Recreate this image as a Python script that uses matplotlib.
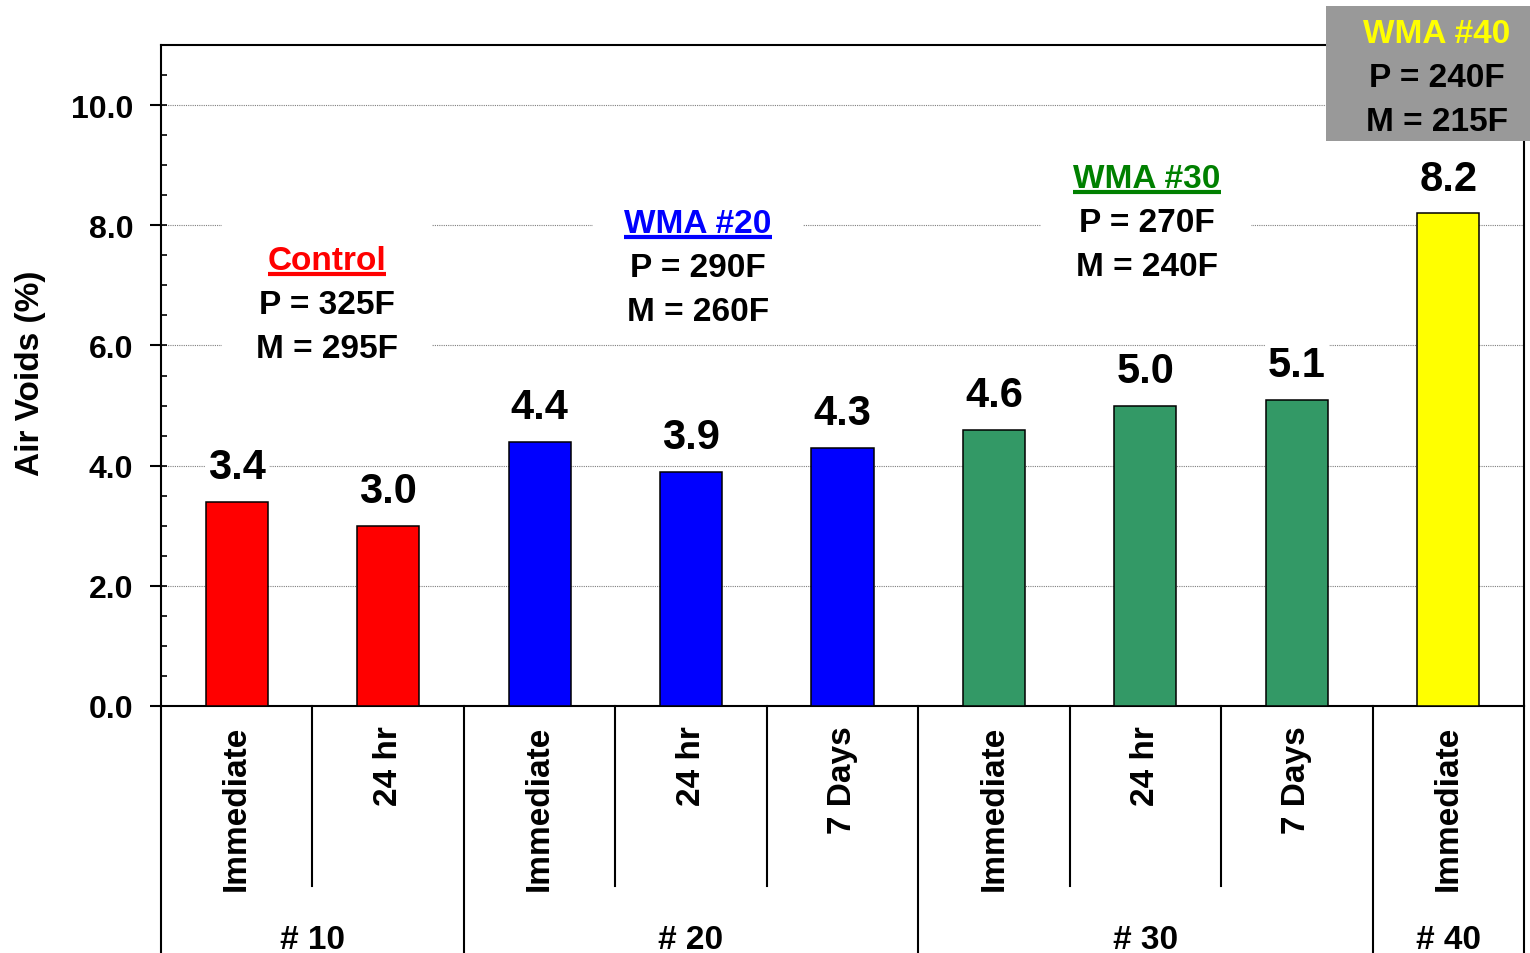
import matplotlib
matplotlib.use("Agg")
import matplotlib.pyplot as plt
import matplotlib.transforms as mtransforms
from matplotlib.lines import Line2D
from matplotlib.patches import Rectangle
from matplotlib.ticker import MultipleLocator, FormatStrFormatter

plt.rcParams['font.family'] = ['Liberation Sans', 'DejaVu Sans']
plt.rcParams['font.weight'] = 'bold'

# ---- data ----
groups = ['# 10', '# 20', '# 30', '# 40']
group_sizes = [2, 3, 3, 1]
conditions = ['Immediate', '24 hr',
              'Immediate', '24 hr', '7 Days',
              'Immediate', '24 hr', '7 Days',
              'Immediate']
air_voids = [3.4, 3.0, 4.4, 3.9, 4.3, 4.6, 5.0, 5.1, 8.2]
group_colors = ['#FF0000', '#0000FF', '#339966', '#FFFF00']

mix_titles = ['Control', 'WMA #20', 'WMA #30', 'WMA #40']
mix_title_colors = ['#FF0000', '#0000FF', '#008000', '#FFFF00']
production_temps = ['P = 325F', 'P = 290F', 'P = 270F', 'P = 240F']
compaction_temps = ['M = 295F', 'M = 260F', 'M = 240F', 'M = 215F']

# ---- figure ----
W, H = 1530, 954
fig = plt.figure(figsize=(W / 100, H / 100), dpi=100)
ax = fig.add_axes([161 / W, (H - 707) / H, (1524 - 161) / W, (707 - 46) / H])

bar_colors = []
for c, n in zip(group_colors, group_sizes):
    bar_colors += [c] * n
xpos = list(range(len(air_voids)))

ax.bar(xpos, air_voids, width=0.41, color=bar_colors, edgecolor='black',
       linewidth=1.1, zorder=3)

ax.set_xlim(-0.5, len(air_voids) - 0.5)
ax.set_ylim(0, 11)
ax.set_axisbelow(True)

# y axis
ax.yaxis.set_major_locator(MultipleLocator(2))
ax.yaxis.set_minor_locator(MultipleLocator(0.5))
ax.yaxis.remove_overlapping_locs = False
ax.yaxis.set_major_formatter(FormatStrFormatter('%.1f'))
ax.tick_params(axis='y', which='major', direction='out', length=8, width=1.5,
               labelsize=23, pad=12)
ax.tick_params(axis='y', which='minor', direction='in', length=4.5, width=1.2)
for lbl in ax.get_yticklabels():
    lbl.set_fontweight('bold')
ax.grid(axis='y', which='major', color='#7f7f7f', linestyle=(0, (1, 1)),
        linewidth=0.8)

ax.set_xticks([])
for s in ax.spines.values():
    s.set_linewidth(1.5)
    s.set_color('black')

fig.text(31 / W, (H - 373) / H, 'Air Voids (%)', rotation=90, ha='center',
         va='center', fontsize=24, fontweight='bold')

# value labels
for xi, v in zip(xpos, air_voids):
    ax.annotate(f'{v:.1f}', (xi, v), xytext=(0, 17), textcoords='offset points',
                ha='center', va='baseline', fontsize=30, fontweight='bold',
                zorder=6,
                bbox=dict(facecolor='white', edgecolor='none', pad=2))

# ---- category axis (two levels) ----
xa = ax.get_xaxis_transform()
def below(px):
    return mtransforms.offset_copy(xa, fig=fig, y=-px, units='dots')

for xi, name in zip(xpos, conditions):
    ax.text(xi, 0, name, transform=below(19), rotation=90, ha='center',
            va='top', fontsize=24, fontweight='bold', clip_on=False)

edges = [-0.5]
for n in group_sizes:
    edges.append(edges[-1] + n)
start = -0.5
for gi, (g, n) in enumerate(zip(groups, group_sizes)):
    ax.text(start + n / 2, 0, g, transform=below(234), ha='center',
            va='center', fontsize=24, fontweight='bold', clip_on=False)
    for k in range(1, n):
        ax.add_line(Line2D([start + k, start + k], [0, -180 / 661],
                           transform=xa, clip_on=False,
                           color='black', lw=1.5))
    start += n
for e in edges:
    ax.add_line(Line2D([e, e], [0, -260 / 661], transform=xa, clip_on=False,
                       color='black', lw=1.5))

# ---- mix description boxes ----
step = 44 / 60.2
notes = [
    # x-centre, title baseline, box (x0, x1, y0, y1)
    (0.596, 7.276, (-0.097, 1.289, 5.565, 8.123)),
    (3.046, 7.890, (2.353, 3.739, 6.262, 8.505)),
    (6.011, 8.638, (5.311, 6.698, 7.010, 9.252)),
    (7.926, 11.047, (7.193, 8.606, 9.402, 11.645)),
]
title_texts = []
for i, (xc, yb, (x0, x1, y0, y1)) in enumerate(notes):
    shaded = (i == 3)
    ax.add_patch(Rectangle((x0, y0), x1 - x0, y1 - y0,
                           facecolor='#999999' if shaded else 'white',
                           edgecolor='none', zorder=10 if shaded else 1,
                           clip_on=False))
    z = 11
    t = ax.text(xc, yb, mix_titles[i], ha='center', va='baseline',
                fontsize=24, fontweight='bold', color=mix_title_colors[i],
                zorder=z, clip_on=False)
    ax.text(xc, yb - step, production_temps[i], ha='center', va='baseline',
            fontsize=24, fontweight='bold', color='black', zorder=z,
            clip_on=False)
    ax.text(xc, yb - 2 * step, compaction_temps[i], ha='center',
            va='baseline', fontsize=24, fontweight='bold', color='black',
            zorder=z, clip_on=False)
    if not shaded:
        title_texts.append((t, xc, yb, mix_title_colors[i]))

# underline the mix titles
fig.canvas.draw()
for t, xc, yb, col in title_texts:
    bb = t.get_window_extent()
    ybase = ax.transData.transform((xc, yb))[1] - 5
    fig.add_artist(Line2D([bb.x0 / W, bb.x1 / W], [ybase / H, ybase / H],
                          transform=fig.transFigure, color=col, lw=3,
                          solid_capstyle='butt'))

fig.savefig('out.png', dpi=100)
